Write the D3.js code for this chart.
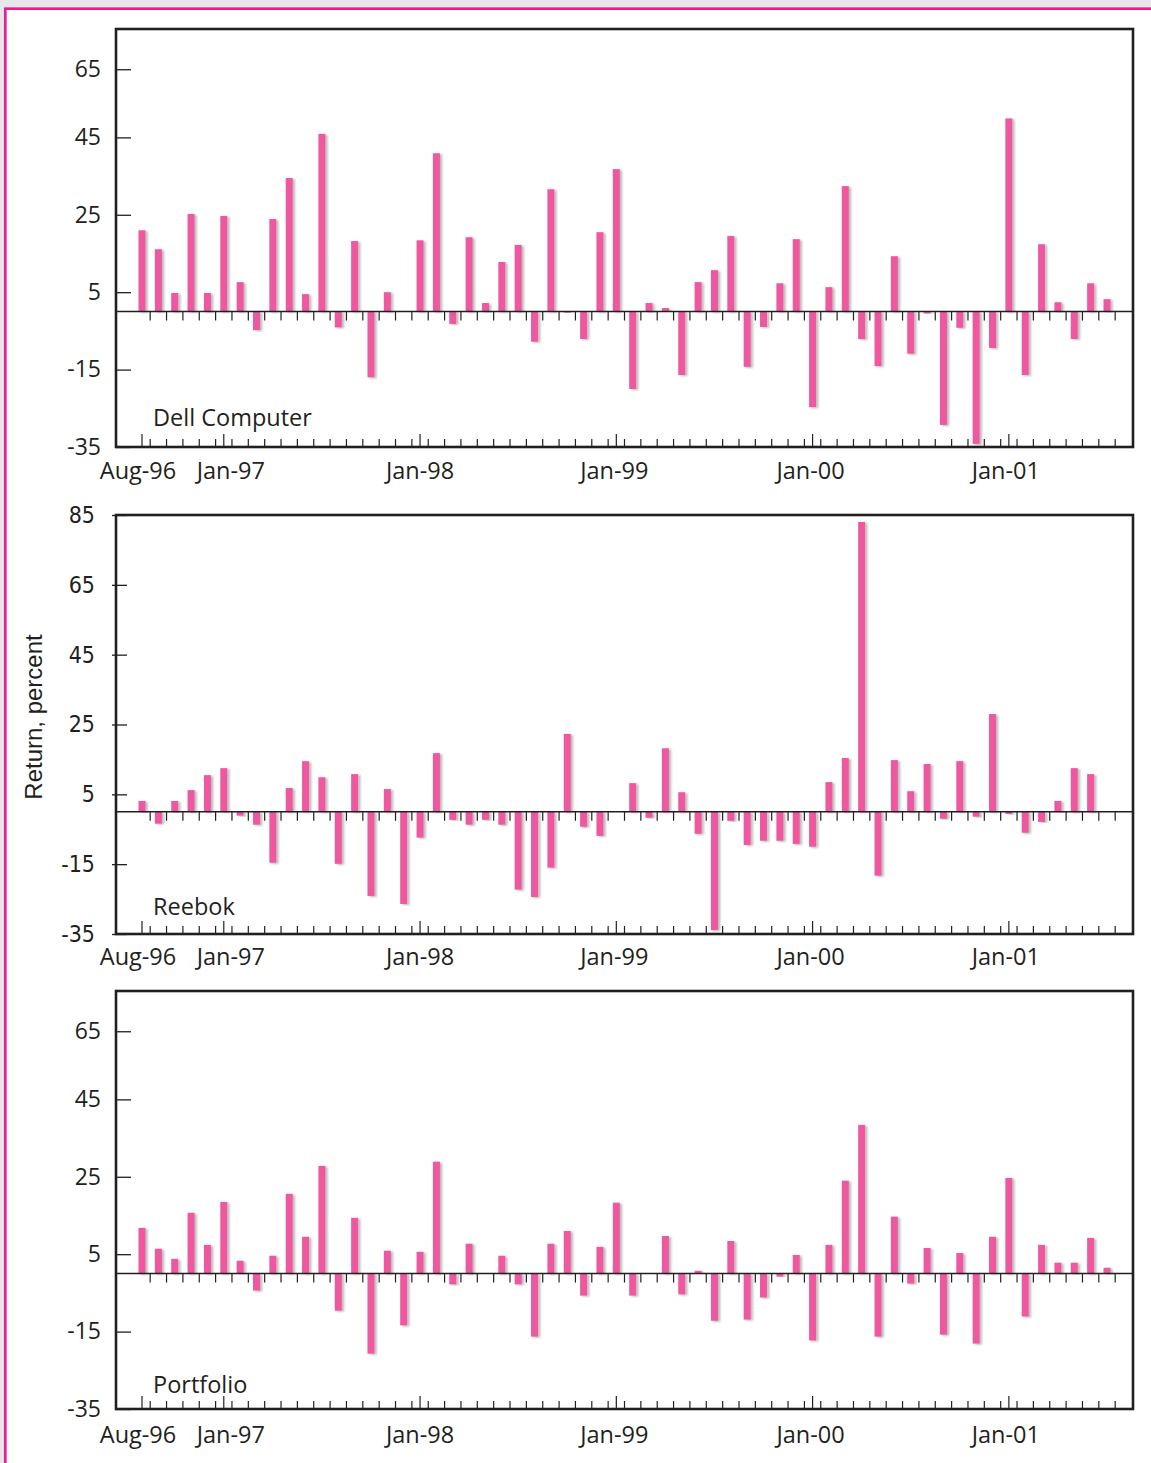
<!DOCTYPE html>
<html><head><meta charset="utf-8">
<script src="https://cdn.jsdelivr.net/npm/d3@7"></script>
<style>
body{margin:0;background:#e6e7e8;}
svg{display:block}
</style>
</head><body>
<svg id="c" width="1151" height="1463"></svg>
<script>
// ---------- DATA ----------
const months = [
 "Aug-96","Sep-96","Oct-96","Nov-96","Dec-96",
 "Jan-97","Feb-97","Mar-97","Apr-97","May-97","Jun-97","Jul-97","Aug-97","Sep-97","Oct-97","Nov-97","Dec-97",
 "Jan-98","Feb-98","Mar-98","Apr-98","May-98","Jun-98","Jul-98","Aug-98","Sep-98","Oct-98","Nov-98","Dec-98",
 "Jan-99","Feb-99","Mar-99","Apr-99","May-99","Jun-99","Jul-99","Aug-99","Sep-99","Oct-99","Nov-99","Dec-99",
 "Jan-00","Feb-00","Mar-00","Apr-00","May-00","Jun-00","Jul-00","Aug-00","Sep-00","Oct-00","Nov-00","Dec-00",
 "Jan-01","Feb-01","Mar-01","Apr-01","May-01","Jun-01","Jul-01"
];
const dellReturns = [
 21.0, 16.1, 4.8, 25.2, 4.8,
 24.7, 7.6, -4.8, 23.9, 34.5, 4.5, 45.9, -4.1, 18.2, -17.0, 5.0, 0,
 18.4, 40.9, -3.2, 19.2, 2.2, 12.8, 17.2, -7.8, 31.6, -0.3, -7.1, 20.5,
 36.8, -20.0, 2.2, 0.9, -16.4, 7.6, 10.7, 19.5, -14.3, -4.0, 7.3, 18.7,
 -24.7, 6.3, 32.4, -7.1, -14.1, 14.3, -10.9, -0.5, -29.3, -4.2, -34.2, -9.4,
 49.9, -16.4, 17.4, 2.4, -7.1, 7.3, 3.2
];
const reebokReturns = [
 3.1, -3.4, 3.1, 6.2, 10.5,
 12.5, -1.1, -3.7, -14.6, 6.8, 14.5, 9.9, -14.9, 10.8, -24.1, 6.5, -26.4,
 -7.4, 16.8, -2.3, -3.7, -2.3, -3.7, -22.3, -24.4, -16.0, 22.3, -4.3, -6.9,
 0, 8.2, -1.7, 18.2, 5.6, -6.3, -33.9, -2.6, -9.5, -8.3, -8.3, -9.2,
 -10.0, 8.5, 15.4, 83.0, -18.3, 14.8, 5.9, 13.7, -2.0, 14.5, -1.4, 28.0,
 -0.6, -6.0, -2.9, 3.1, 12.5, 10.8, 0
];
const portfolioReturns = [
 11.8, 6.4, 3.8, 15.7, 7.4,
 18.5, 3.3, -4.4, 4.6, 20.6, 9.5, 27.8, -9.6, 14.4, -20.7, 5.9, -13.4,
 5.6, 28.9, -2.8, 7.7, 0, 4.6, -2.8, -16.3, 7.7, 11.0, -5.7, 6.9,
 18.3, -5.7, 0, 9.7, -5.4, 0.7, -12.2, 8.4, -11.9, -6.2, -0.8, 4.8,
 -17.3, 7.4, 24.0, 38.4, -16.3, 14.7, -2.6, 6.6, -15.8, 5.3, -18.1, 9.5,
 24.7, -11.1, 7.4, 2.8, 2.8, 9.2, 1.5
];
const xTickLabels = ["Aug-96","Jan-97","Jan-98","Jan-99","Jan-00","Jan-01"];
const yTickLabelsDell = ["-35","-15","5","25","45","65"];
const yTickValuesDell = [-35,-15,5,25,45,62.6];
const yTickLabelsReebok = ["-35","-15","5","25","45","65","85"];
const yTickValuesReebok = [-35,-15,5,25,45,65,85];
const yTickLabelsPortfolio = ["-35","-15","5","25","45","65"];
const yTickValuesPortfolio = [-35,-15,5,25,45,62.6];
const panelNames = ["Dell Computer","Reebok","Portfolio"];
const yAxisTitle = "Return, percent";

// ---------- LAYOUT ----------
const W = 1151, H = 1463;
const left = 116, right = 1133;
const barColor = "#ee589f";
const ink = "#231f20";
const geoFont = "'Open Sans', Lato, sans-serif";
const geoSize = "23.5px";
const xLabelShift = [-4, 7, 0, -2, -2, -3];

const panels = [
  {name: panelNames[0], values: dellReturns, top: 29, bottom: 447, domain: [-35, 73],
   tv: yTickValuesDell, tl: yTickLabelsDell, tickOut: 0, tickIn: 15, labelX: 101,
   yFont: geoFont, ySize: "23px", titleY: 426, xLabY: 479},
  {name: panelNames[1], values: reebokReturns, top: 515, bottom: 934, domain: [-35, 85],
   tv: yTickValuesReebok, tl: yTickLabelsReebok, tickOut: 4, tickIn: 11, labelX: 95,
   yFont: "'Liberation Sans Narrow', 'DejaVu Sans Condensed', sans-serif", ySize: "23px", titleY: 915, xLabY: 965},
  {name: panelNames[2], values: portfolioReturns, top: 991, bottom: 1409, domain: [-35, 73],
   tv: yTickValuesPortfolio, tl: yTickLabelsPortfolio, tickOut: 0, tickIn: 15, labelX: 101,
   yFont: geoFont, ySize: "23px", titleY: 1393, xLabY: 1443}
];

const svg = d3.select("#c");

// page frame
svg.append("rect").attr("x", 0).attr("y", 0).attr("width", W).attr("height", H).attr("fill", "#e6e7e8");
svg.append("rect").attr("x", 5.3).attr("y", 8.7).attr("width", W).attr("height", H)
  .attr("fill", "#fff").attr("stroke", "#ec1c8e").attr("stroke-width", 2.7);

// shadow filter
const defs = svg.append("defs");
const f = defs.append("filter").attr("id", "sh").attr("x", "-50%").attr("y", "-10%").attr("width", "200%").attr("height", "120%");
f.append("feDropShadow").attr("dx", 2.2).attr("dy", 1).attr("stdDeviation", 1.3)
  .attr("flood-color", "#000").attr("flood-opacity", 0.28);

const x = d3.scaleBand().domain(months).range([left, right]).paddingInner(0).paddingOuter(1.09);
const bw = 7;

panels.forEach(p => {
  const g = svg.append("g");
  const y = d3.scaleLinear().domain(p.domain).range([p.bottom, p.top]);

  // bars
  g.append("g").selectAll("rect").data(p.values).join("rect")
    .attr("x", (d, i) => x(months[i]) + x.bandwidth() / 2 - bw / 2)
    .attr("y", d => y(Math.max(0, d)))
    .attr("width", bw)
    .attr("height", d => Math.abs(y(d) - y(0)))
    .attr("fill", barColor)
    .attr("filter", "url(#sh)");

  // zero line with month ticks
  g.append("line").attr("x1", left).attr("x2", right).attr("y1", y(0)).attr("y2", y(0))
    .attr("stroke", ink).attr("stroke-width", 1.4);
  g.append("g").selectAll("line").data(months).join("line")
    .attr("x1", d => x(d) + x.bandwidth()).attr("x2", d => x(d) + x.bandwidth())
    .attr("y1", y(0)).attr("y2", y(0) + 9)
    .attr("stroke", ink).attr("stroke-width", 1.2);

  // bottom minor ticks
  g.append("g").selectAll("line").data(months).join("line")
    .attr("x1", d => x(d) + x.bandwidth()).attr("x2", d => x(d) + x.bandwidth())
    .attr("y1", p.bottom).attr("y2", p.bottom - 8)
    .attr("stroke", ink).attr("stroke-width", 1.2);

  // bottom major ticks + labels
  const xa = d3.axisBottom(x).tickValues(xTickLabels).tickSizeInner(-13).tickSizeOuter(0).tickPadding(0);
  const xg = g.append("g").attr("transform", `translate(0,${p.bottom})`).call(xa);
  xg.select(".domain").remove();
  xg.selectAll(".tick line").attr("stroke", ink).attr("stroke-width", 1.2);
  xg.selectAll(".tick text").attr("dy", null).attr("y", p.xLabY - p.bottom)
    .attr("x", (d, i) => xLabelShift[i])
    .attr("fill", ink).style("font-family", geoFont).style("font-size", geoSize);

  // y axis
  const ya = d3.axisLeft(y).tickValues(p.tv).tickFormat((d, i) => p.tl[i])
    .tickSizeInner(-p.tickIn).tickSizeOuter(0).tickPadding(left - p.labelX);
  const yg = g.append("g").attr("transform", `translate(${left},0)`).call(ya);
  yg.select(".domain").remove();
  yg.selectAll(".tick line").attr("x1", -p.tickOut).attr("stroke", ink).attr("stroke-width", 1.3);
  yg.selectAll(".tick text").attr("fill", ink).style("font-family", p.yFont).style("font-size", p.ySize);

  // frame
  g.append("rect").attr("x", left).attr("y", p.top).attr("width", right - left).attr("height", p.bottom - p.top)
    .attr("fill", "none").attr("stroke", ink).attr("stroke-width", 2.6);

  // panel title
  g.append("text").attr("x", 153).attr("y", p.titleY).text(p.name)
    .attr("fill", ink).style("font-family", geoFont).style("font-size", geoSize);
});

// y axis title
svg.append("text").attr("transform", "translate(42,717) rotate(-90)")
  .attr("text-anchor", "middle").text(yAxisTitle)
  .attr("fill", ink).style("font-family", "'Liberation Sans', Arial, sans-serif").style("font-size", "24px");
</script>
</body></html>
